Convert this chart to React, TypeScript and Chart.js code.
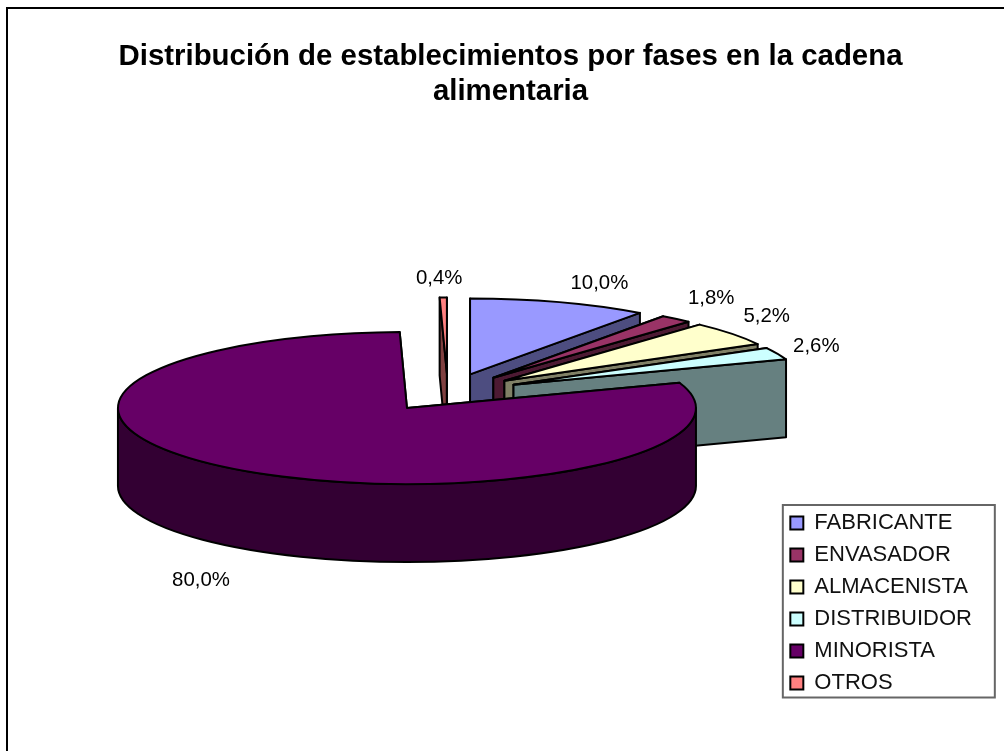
import React, { useEffect, useRef } from "react";
import { Chart, registerables } from "chart.js";

Chart.register(...registerables);

const titleLines = ["Distribución de establecimientos por fases en la cadena", "alimentaria"];
const categories = ["FABRICANTE", "ENVASADOR", "ALMACENISTA", "DISTRIBUIDOR", "MINORISTA", "OTROS"];
const shares = [10.0, 1.8, 5.2, 2.6, 80.0, 0.4];
const topColors = ["#9999FF", "#993366", "#FFFFCC", "#CCFFFF", "#660066", "#FF8080"];
const wallColors = ["#4D4D80", "#4D1A33", "#808066", "#668080", "#330033", "#804040"];

// back-to-front painting order of the slices
const paintOrder = [5, 0, 1, 2, 3, 4];

const FONT = '"Liberation Sans", Arial, sans-serif';
const PIE_X = 447.8;
const PIE_Y = 392.4;
const RADIUS = 289;
const TILT = 0.263;
const DEPTH = 78;
const EXPLODE = 72;
// label shift from the rim point of each slice's mid angle
const labelShift = [
  [40, -19],
  [35, -20],
  [35, -17],
  [39, -7],
  [-42, 32],
  [-4, -19],
];

const pie3d = {
  id: "pie3d",
  beforeDatasetDraw(chart: any) {
    const { ctx } = chart;
    const arcs = chart.getDatasetMeta(0).data;
    for (const i of paintOrder) {
      const arc = arcs[i];
      const { startAngle: a0, endAngle: a1, outerRadius: r } = arc.getProps(
        ["startAngle", "endAngle", "outerRadius"],
        true
      );
      const mid = (a0 + a1) / 2;
      const cx = PIE_X + Math.cos(mid) * EXPLODE;
      const cy = PIE_Y + Math.sin(mid) * EXPLODE * TILT;
      const ry = r * TILT;
      const px = (a: number) => cx + Math.cos(a) * r;
      const py = (a: number) => cy + Math.sin(a) * ry;

      ctx.save();
      ctx.lineWidth = 2;
      ctx.strokeStyle = "#000";
      ctx.lineJoin = "round";
      ctx.fillStyle = wallColors[i];

      // radial walls
      for (const a of [a0, a1]) {
        ctx.beginPath();
        ctx.moveTo(cx, cy);
        ctx.lineTo(px(a), py(a));
        ctx.lineTo(px(a), py(a) + DEPTH);
        ctx.lineTo(cx, cy + DEPTH);
        ctx.closePath();
        ctx.fill();
        ctx.stroke();
      }

      // outer wall: the front half of the rim only
      const from = Math.max(a0, 0);
      const to = Math.min(a1, Math.PI);
      if (to > from) {
        ctx.beginPath();
        ctx.ellipse(cx, cy, r, ry, 0, from, to);
        ctx.ellipse(cx, cy + DEPTH, r, ry, 0, to, from, true);
        ctx.closePath();
        ctx.fill();
        ctx.stroke();
      }

      // top face, drawn by the library's own arc element
      ctx.save();
      ctx.translate(cx, cy);
      ctx.scale(1, TILT);
      ctx.translate(-arc.x, -arc.y);
      arc.draw(ctx);
      ctx.restore();

      ctx.beginPath();
      ctx.moveTo(cx, cy);
      ctx.ellipse(cx, cy, r, ry, 0, a0, a1);
      ctx.closePath();
      ctx.stroke();
      ctx.restore();
    }
    return false;
  },
  afterDatasetsDraw(chart: any) {
    const { ctx } = chart;
    const arcs = chart.getDatasetMeta(0).data;
    ctx.save();
    ctx.fillStyle = "#000";
    ctx.font = `20.4px ${FONT}`;
    ctx.textAlign = "center";
    ctx.textBaseline = "middle";
    arcs.forEach((arc: any, i: number) => {
      const { startAngle: a0, endAngle: a1, outerRadius: r } = arc.getProps(
        ["startAngle", "endAngle", "outerRadius"],
        true
      );
      const mid = (a0 + a1) / 2;
      const x = PIE_X + Math.cos(mid) * (EXPLODE + r) + labelShift[i][0];
      const y = PIE_Y + Math.sin(mid) * (EXPLODE + r) * TILT + (i === 4 ? DEPTH : 0) + labelShift[i][1];
      ctx.fillText(shares[i].toFixed(1).replace(".", ",") + "%", x, y);
    });
    ctx.restore();
  },
  afterDraw(chart: any) {
    const { ctx, legend } = chart;
    ctx.save();
    ctx.strokeStyle = "#000";
    ctx.lineWidth = 2;
    ctx.strokeRect(7, 8, 1040, 780);
    const boxes = legend.legendHitBoxes;
    const first = boxes[0];
    const last = boxes[boxes.length - 1];
    const top = first.top + first.height / 2 - 18;
    const bottom = last.top + last.height / 2 + 14.5;
    const left = first.left - 7.5;
    ctx.strokeStyle = "#666";
    ctx.strokeRect(left, top, 212, bottom - top);
    ctx.restore();
  },
};

export default function App() {
  const ref = useRef<HTMLCanvasElement>(null);
  useEffect(() => {
    const chart = new Chart(ref.current!, {
      type: "pie",
      data: {
        labels: categories,
        datasets: [{ data: shares, backgroundColor: topColors, borderWidth: 0, radius: RADIUS } as any],
      },
      options: {
        responsive: false,
        animation: false,
        layout: { padding: { top: 39, left: 39, right: 22, bottom: 47 } },
        plugins: {
          tooltip: { enabled: false },
          title: {
            display: true,
            text: titleLines,
            color: "#000",
            font: { family: FONT, size: 29.4, weight: "bold", lineHeight: 1.19 },
            padding: 0,
          },
          legend: {
            position: "right",
            align: "end",
            labels: {
              font: { family: FONT, size: 22 },
              color: "#111",
              boxWidth: 13,
              boxHeight: 13,
              padding: 10,
              generateLabels: (c: any) =>
                (Chart as any).overrides.pie.plugins.legend.labels
                  .generateLabels(c)
                  .map((l: any) => ({ ...l, strokeStyle: "#000", lineWidth: 2 })),
            },
          },
        },
      } as any,
      plugins: [pie3d],
    });
    return () => chart.destroy();
  }, []);
  return (
    <canvas
      ref={ref}
      width={1004}
      height={751}
      style={{ position: "fixed", left: 0, top: 0, width: 1004, height: 751, background: "#fff" }}
    />
  );
}
